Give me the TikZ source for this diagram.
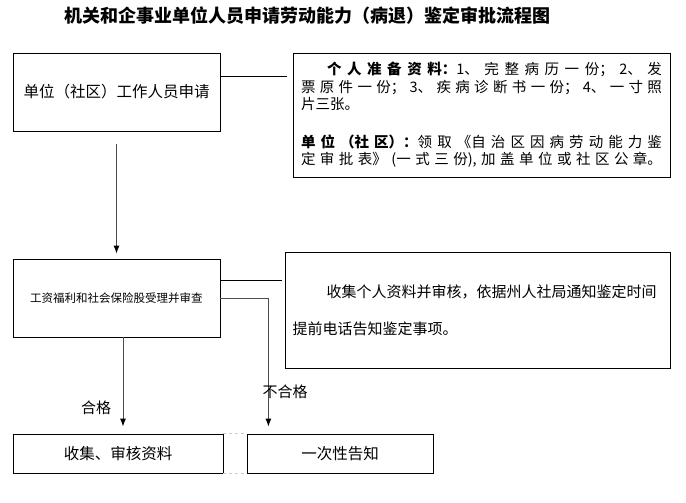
\documentclass[tikz,border=0pt]{standalone}
\usepackage{amsmath}
\usepackage{fontspec}
\usetikzlibrary{arrows.meta}
\setmainfont{Noto Sans CJK SC}
\XeTeXlinebreaklocale "zh"
\XeTeXlinebreakskip = 0pt plus 8pt

\begin{document}
\begin{tikzpicture}[x = 1pt, y = -1pt,
    box/.style = {draw, line width = 0.8pt, inner sep = 0pt},
    link/.style = {line width = 0.8pt},
    flow/.style = {-{Latex[length = 8pt, width = 6pt, color = black]}, line width = 0.9pt, draw = black!70},
    txt/.style = {font = \fontsize{15.5}{18}\selectfont}]
    \useasboundingbox (0,0) rectangle (686,503);
    \node at (307,16) [font = \fontsize{18}{20}\selectfont\bfseries] (title) {机关和企事业单位人员申请劳动能力（病退）鉴定审批流程图};
    % boxes
    \node at (116.5,92) [box, txt, minimum width = 207, minimum height = 78] (apply) {单位（社区）工作人员申请};
    \node at (481.5,115) [box, minimum width = 377, minimum height = 124, text width = 361pt, align = justify, font = \fontsize{14.5}{17.5}\selectfont] (papers) {\hspace*{26pt}\textbf{个人准备资料：}1、完整病历一份；2、发\linebreak 票原件一份；3、疾病诊断书一份；4、一寸照\linebreak 片三张。\par\vspace{20pt}\textbf{单位（社区）：}领取《自治区因病劳动能力鉴\linebreak 定审批表》(一式三份),加盖单位或社区公章。{\parfillskip = 0pt\par}};
    \node at (116.5,298) [box, minimum width = 207, minimum height = 78, font = \fontsize{11.5}{13}\selectfont] (check) {工资福利和社会保险股受理并审查};
    \node at (477.5,310) [box, minimum width = 385, minimum height = 116, text width = 370pt, align = left, font = \fontsize{15}{37}\selectfont] (notice) {\hspace*{34pt}收集个人资料并审核，依据州人社局通知鉴定时间\\提前电话告知鉴定事项。};
    \node at (118,453.5) [box, txt, minimum width = 210, minimum height = 39] (collect) {收集、审核资料};
    \node at (340,453.5) [box, txt, minimum width = 186, minimum height = 39] (once) {一次性告知};
    % lines
    \coordinate (a1) at ([yshift = 16pt]apply.east);
    \draw [link, shorten >= 6pt] (a1) -- (a1 -| papers.west);
    \draw [flow, shorten <= 13pt, shorten >= 5pt] (apply.south) -- (check.north);
    \coordinate (c1) at ([yshift = 18pt]check.east);
    \draw [link, shorten >= 3pt] (c1) -- (c1 -| notice.west);
    \coordinate (c2) at ([xshift = 6.5pt]check.south);
    \draw [flow, shorten >= 7pt] (c2) -- (c2 |- collect.north);
    \coordinate (c3) at ([xshift = 48pt]check.east);
    \draw [flow, shorten >= 7pt] (check.east) -- (c3) -- (c3 |- once.north);
    \draw [dashed, gray!40, line width = 0.6pt] (collect.north east) -- (once.north west);
    \draw [dashed, gray!40, line width = 0.6pt] (collect.south east) -- (once.south west);
    \node at (96,408) [font = \fontsize{15}{17}\selectfont] (pass) {合格};
    \node at (285,392) [font = \fontsize{15}{17}\selectfont] (fail) {不合格};
\end{tikzpicture}
\end{document}
